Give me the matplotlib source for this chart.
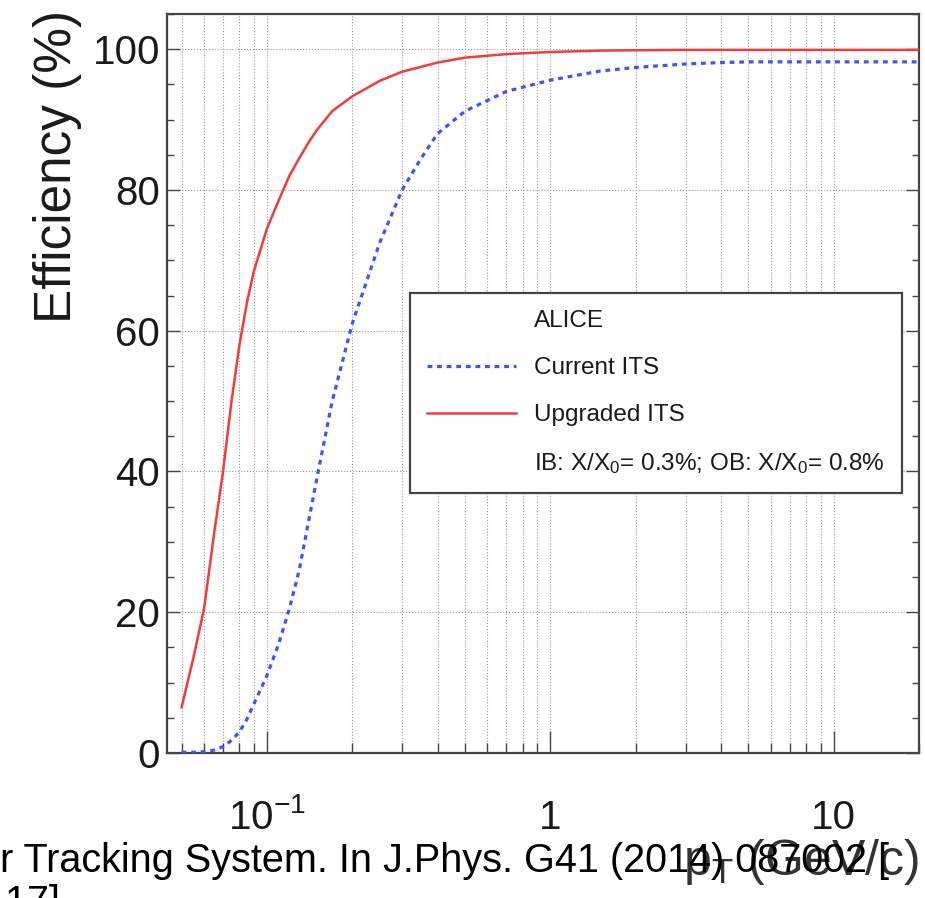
"""ALICE ITS upgrade: tracking efficiency vs pT, current vs upgraded ITS."""
import matplotlib
matplotlib.use("Agg")
import matplotlib.pyplot as plt
from matplotlib.lines import Line2D
from matplotlib.ticker import LogLocator, MultipleLocator, NullFormatter

plt.rcParams["font.family"] = ["Liberation Sans", "DejaVu Sans"]
plt.rcParams["mathtext.fontset"] = "custom"
plt.rcParams["mathtext.rm"] = "Liberation Sans"
plt.rcParams["mathtext.default"] = "regular"

# Upgraded ITS (solid red)
PT_UPG = [0.05, 0.055, 0.06, 0.065, 0.07, 0.075, 0.08, 0.085, 0.09, 0.1, 0.11,
          0.12, 0.13, 0.14, 0.15, 0.17, 0.2, 0.25, 0.3, 0.4, 0.5, 0.7, 1.0,
          1.5, 2.0, 3.0, 5.0, 10.0, 20.0]
EFF_UPG = [6.5, 13.5, 20.5, 31.0, 40.0, 50.0, 58.0, 64.0, 68.5, 74.5, 78.5,
           82.0, 84.5, 86.7, 88.5, 91.2, 93.3, 95.5, 96.8, 98.1, 98.8, 99.3,
           99.6, 99.8, 99.85, 99.9, 99.9, 99.9, 99.9]

# Current ITS (dotted blue)
PT_CUR = [0.05, 0.055, 0.06, 0.065, 0.07, 0.075, 0.08, 0.085, 0.09, 0.1, 0.11,
          0.12, 0.13, 0.15, 0.17, 0.2, 0.25, 0.3, 0.35, 0.4, 0.5, 0.7, 1.0,
          1.5, 2.0, 3.0, 4.0, 5.0, 10.0, 20.0]
EFF_CUR = [0.1, 0.1, 0.2, 0.4, 0.9, 1.8, 3.0, 4.8, 7.0, 11.0, 15.5, 20.5, 26.0,
           39.0, 50.0, 61.0, 72.5, 80.0, 84.5, 88.0, 91.2, 94.0, 95.6, 96.9,
           97.4, 97.9, 98.1, 98.2, 98.2, 98.2]

XTICKS = [0.1, 1, 10]
XTICKLABELS = [r"$10^{-1}$", "1", "10"]
YTICKS = [0, 20, 40, 60, 80, 100]

RED = "#f03c3c"
BLUE = "#3a55ff"
FRAME = "#444444"

fig = plt.figure(figsize=(9.25, 8.98), dpi=100)
ax = fig.add_axes([167 / 925, 1 - 753 / 898, (919 - 167) / 925, (753 - 14) / 898])

ax.plot(PT_UPG, EFF_UPG, color=RED, lw=1.8, zorder=4)
ax.plot(PT_CUR, EFF_CUR, color=BLUE, lw=2.3, dashes=(1.5, 1.5), zorder=4)

ax.set_xscale("log")
ax.set_xlim(0.0444, 20)
ax.set_ylim(0, 105)

ax.set_xticks(XTICKS)
ax.set_xticklabels(XTICKLABELS)
ax.xaxis.set_minor_locator(LogLocator(base=10, subs=range(2, 10), numticks=20))
ax.xaxis.set_minor_formatter(NullFormatter())
ax.set_yticks(YTICKS)
ax.yaxis.set_minor_locator(MultipleLocator(5))

ax.tick_params(axis="both", which="both", direction="in", colors=FRAME,
               labelcolor="#1a1a1a", right=True, top=False)
ax.tick_params(axis="x", which="major", length=16, width=1.0, labelsize=29, pad=55)
ax.tick_params(axis="x", which="minor", length=7, width=1.0)
ax.tick_params(axis="y", which="major", length=9.5, width=1.0, labelsize=29, pad=5)
ax.tick_params(axis="y", which="minor", length=5, width=1.0)
for lbl in ax.get_xticklabels():
    lbl.set_verticalalignment("baseline")

ax.grid(True, axis="x", which="both", ls=":", lw=0.8, color="#999999")
ax.grid(True, axis="y", which="major", ls=":", lw=0.8, color="#999999")

for sp in ax.spines.values():
    sp.set_color(FRAME)
    sp.set_linewidth(1.6)

handles = [
    Line2D([], [], color="none"),
    Line2D([], [], color=BLUE, lw=2.3, dashes=(1.5, 1.5)),
    Line2D([], [], color=RED, lw=1.8),
    Line2D([], [], color="none"),
]
labels = ["ALICE", "Current ITS", "Upgraded ITS",
          r"IB: X/X$_{0}$= 0.3%; OB: X/X$_{0}$= 0.8%"]
leg = ax.legend(handles, labels, loc="upper left",
                bbox_to_anchor=((410 - 167) / 752, (753 - 293) / 739),
                borderaxespad=0, fontsize=17.5, handlelength=3.66,
                handletextpad=0.74, borderpad=0.7, labelspacing=1.03,
                fancybox=False, framealpha=1, edgecolor=FRAME)
leg.get_frame().set_linewidth(1.6)
for t in leg.get_texts():
    t.set_color("#1a1a1a")

fig.text(58 / 925, 1 - 10 / 898, "Efficiency (%)", rotation=90, ha="center",
         va="top", fontsize=37, color="#1a1a1a")
fig.text(919 / 925, 1 - 875 / 898, r"$p_{T}$ (GeV/c)", ha="right",
         va="baseline", fontsize=36, color="#333333")

# citation text overlapping the bottom of the image
fig.text(0.0, 1 - 872 / 898, "r Tracking System. In J.Phys. G41 (2014) 087002 [",
         ha="left", va="baseline", fontsize=28.5, color="black")
fig.text(0.005, -16 / 898, "17]", ha="left", va="baseline", fontsize=28.5,
         color="black")

fig.savefig("out.png", dpi=100)
